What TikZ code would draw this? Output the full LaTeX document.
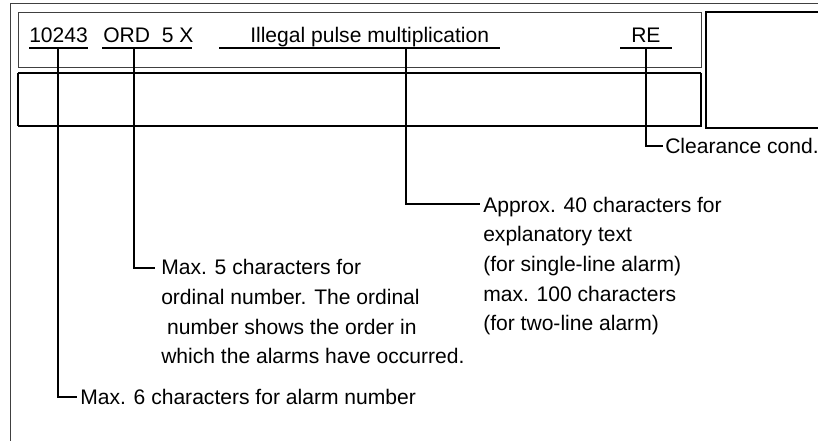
\documentclass[tikz,border=0pt]{standalone}
\usepackage{fontspec}
\setmainfont{Liberation Sans}
\begin{document}
\begin{tikzpicture}[x=0.75pt,y=-0.75pt,
  txt/.style={anchor=base west,inner sep=0pt,font=\fontsize{15.8}{22.3}\selectfont,align=left},
  frame/.style={draw=black!75,line width=0.7pt},
  boxline/.style={draw=black,line width=0.8pt},
  lead/.style={draw=black,line width=0.8pt},
  uline/.style={draw=black,line width=0.8pt}]
\clip (0,0) rectangle (818,441);
% outer frame (cut by the page edges)
\draw[frame] (10,450) -- (10,3) -- (830,3);
% row boxes
\draw[frame] (18,12) rectangle (701,67);
\draw[boxline] (18,126) -- (18,73) (701,73) -- (701,126) -- (18,126);
\draw[draw=black,line width=1.5pt] (18,73) -- (701,73);
\draw[boxline] (830,12) -- (706,12) -- (706,128) -- (830,128);
% header texts
\node[txt] (num) at (29,43) {10243};
\node[txt] (ord) at (103,43) {ORD\ \ 5 X};
\node[txt] (expl) at (250,43) {Illegal pulse multiplication};
\node[txt] (re) at (631,43) {RE};
% underlines
\coordinate (u1a) at (29,48);  \coordinate (u1b) at (88,48);
\coordinate (u2a) at (102,48); \coordinate (u2b) at (192,48);
\coordinate (u3a) at (219,48); \coordinate (u3b) at (500,48);
\coordinate (u4a) at (620,48); \coordinate (u4b) at (672,48);
\draw[uline] (u1a) -- (u1b);
\draw[uline] (u2a) -- (u2b);
\draw[uline] (u3a) -- (u3b);
\draw[uline] (u4a) -- (u4b);
% leader starts
\coordinate (s1) at (58,48);
\coordinate (s2) at (134,48);
\coordinate (s3) at (406,48);
\coordinate (s4) at (646,48);
% leader ends
\coordinate (e1) at (77,397);
\coordinate (e2) at (155,268);
\coordinate (e3) at (480,204);
\coordinate (e4) at (663,146);
% labels (multi-line nodes are placed by the baseline of their last line)
\node[txt] (lab1) at (80,405) {Max. 6 characters for alarm number};
\node[txt] (lab2) at (161,364) {Max. 5 characters for\\ordinal number. The ordinal\\\ number shows the order in\\which the alarms have occurred.};
\node[txt] (lab3) at (483,331) {Approx. 40 characters for\\explanatory text\\(for single-line alarm)\\max. 100 characters\\(for two-line alarm)};
\node[txt] (lab4) at (665,154) {Clearance cond.};
% leaders
\draw[lead] (s1) |- (e1);
\draw[lead] (s2) |- (e2);
\draw[lead] (s3) |- (e3);
\draw[lead] (s4) |- (e4);
\end{tikzpicture}
\end{document}
